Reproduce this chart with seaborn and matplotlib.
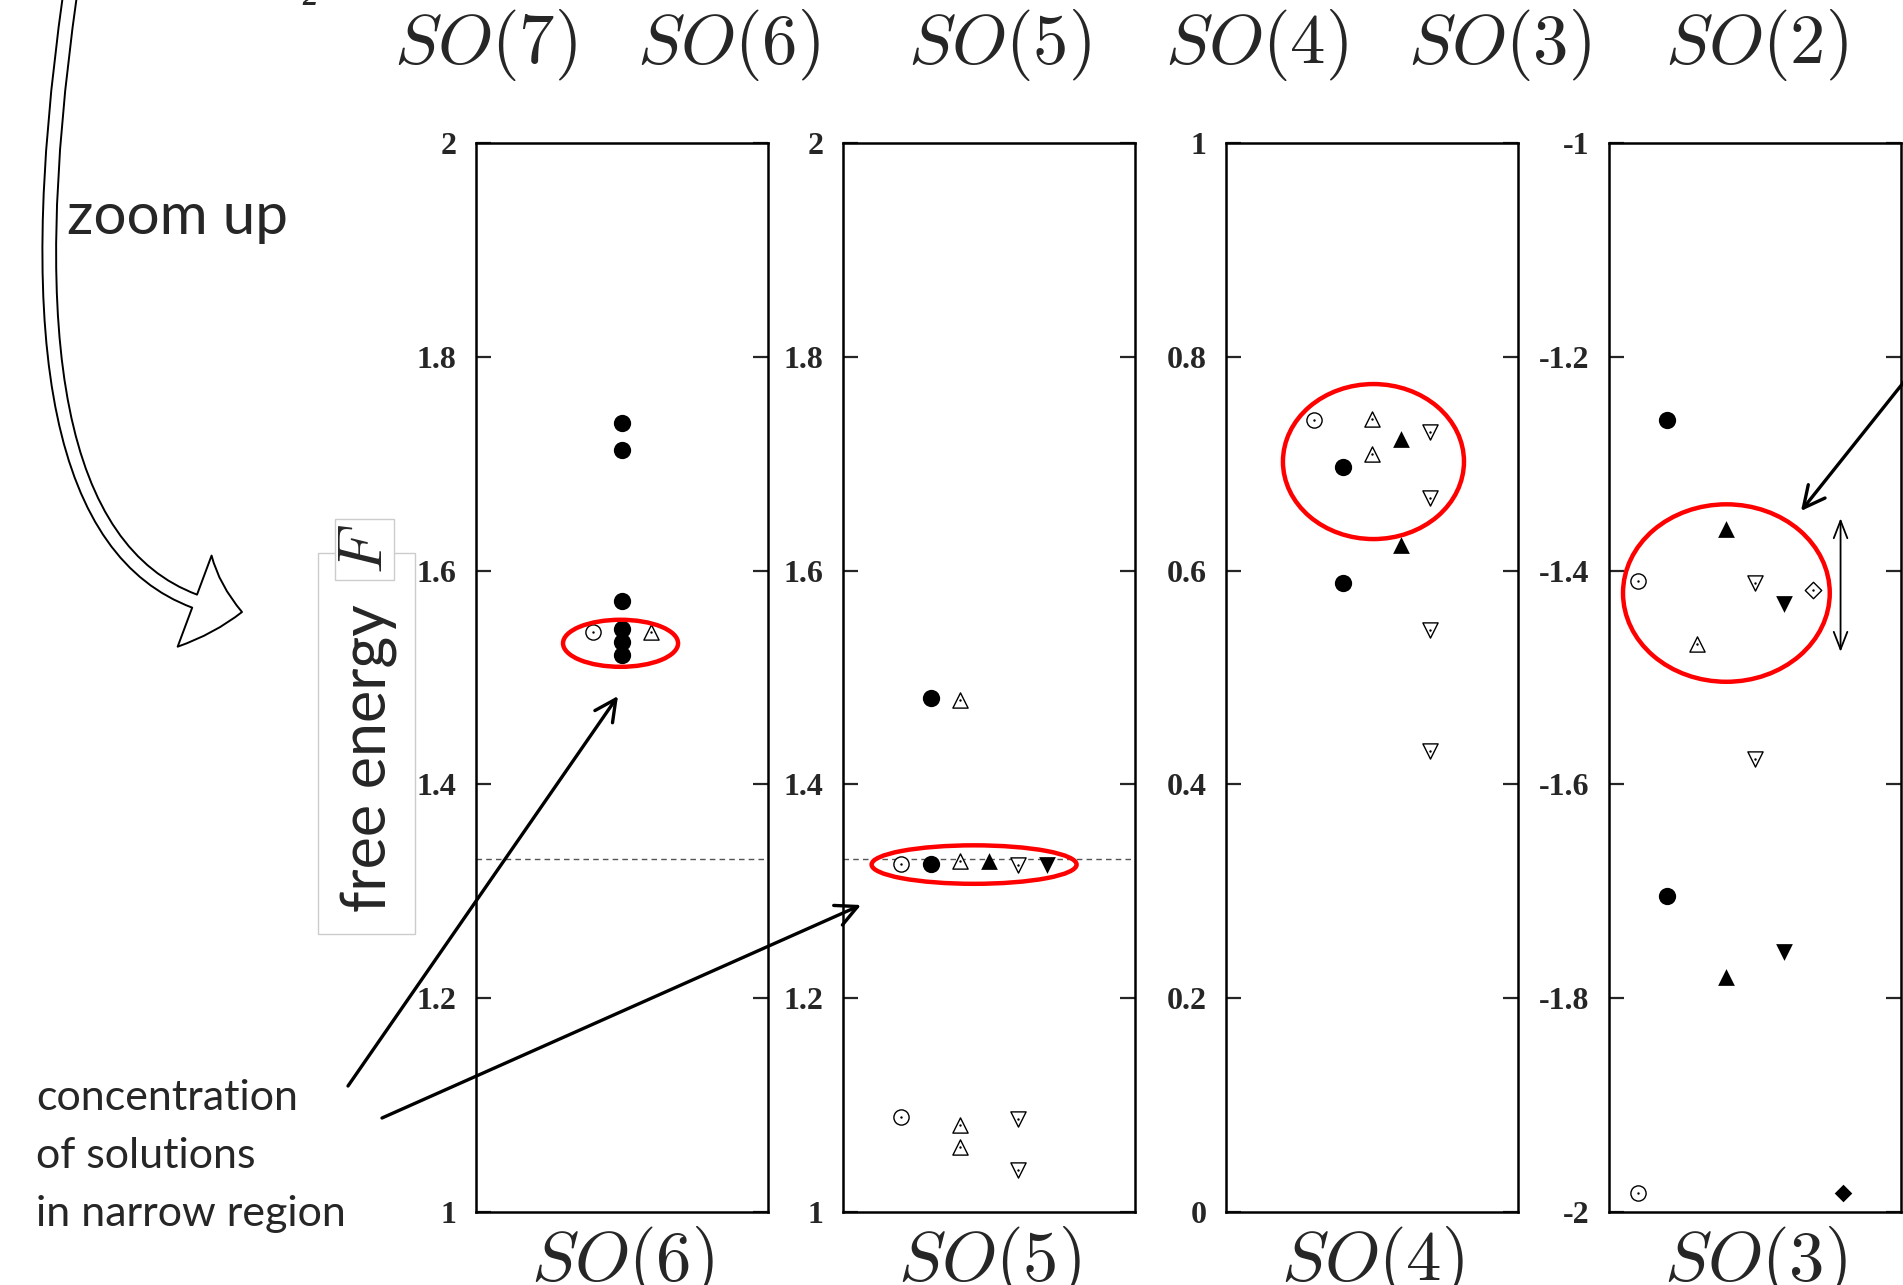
import numpy as np
import pandas as pd
import matplotlib
matplotlib.use('Agg')
import matplotlib.pyplot as plt
import seaborn as sns
from matplotlib.patches import Ellipse, Rectangle, FancyArrowPatch
from matplotlib.path import Path

# ---- values (column position, free energy, solution kind)
so6_x = [4, 5, 5, 5, 5, 5, 5, 6]
so6_F = [1.543, 1.738, 1.713, 1.572, 1.545, 1.533, 1.521, 1.543]
so6_kind = ['oc', 'fc', 'fc', 'fc', 'fc', 'fc', 'fc', 'ot']

so5_x = [2, 2, 3, 3, 4, 4, 4, 4, 5, 6, 6, 6, 7]
so5_F = [1.326, 1.089, 1.481, 1.326, 1.479, 1.328, 1.081, 1.061, 1.328,
         1.325, 1.087, 1.039, 1.325]
so5_kind = ['oc', 'oc', 'fc', 'fc', 'ot', 'ot', 'ot', 'ot', 'ft',
            'od', 'od', 'od', 'fd']

so4_x = [3, 4, 4, 5, 5, 6, 6, 7, 7, 7, 7]
so4_F = [0.741, 0.697, 0.588, 0.742, 0.709, 0.723, 0.624, 0.730, 0.668, 0.544, 0.431]
so4_kind = ['oc', 'fc', 'fc', 'ot', 'ot', 'ft', 'ft', 'od', 'od', 'od', 'od']

so3_x = [1, 1, 2, 2, 3, 4, 4, 5, 5, 6, 6, 7, 8]
so3_F = [-1.410, -1.982, -1.259, -1.704, -1.469, -1.361, -1.780, -1.412, -1.576,
         -1.431, -1.757, -1.418, -1.982]
so3_kind = ['oc', 'oc', 'fc', 'fc', 'ot', 'ft', 'ft', 'od', 'od', 'fd', 'fd', 'oD', 'fD']

ylims = [(1, 2), (1, 2), (0, 1), (-2, -1)]
ytick_labels = [['1', '1.2', '1.4', '1.6', '1.8', '2'],
                ['1', '1.2', '1.4', '1.6', '1.8', '2'],
                ['0', '0.2', '0.4', '0.6', '0.8', '1'],
                ['-2', '-1.8', '-1.6', '-1.4', '-1.2', '-1']]
bottom_groups = ['$SO(6)$', '$SO(5)$', '$SO(4)$', '$SO(3)$']
top_groups = ['$SO(7)$', '$SO(6)$', '$SO(5)$', '$SO(4)$', '$SO(3)$', '$SO(2)$']
reference_F = 1.33

# red circles around the clustered solutions (centre x, centre F, width, height)
clusters = [(4.95, 1.532, 3.94, 0.044), (4.49, 1.325, 7.02, 0.036),
            (5.05, 0.702, 6.2, 0.145), (4.02, -1.421, 7.08, 0.166)]

# marker, filled?, size
MARKERS = {
    'oc': ('o', False, 120), 'fc': ('o', True, 155),
    'ot': ('^', False, 120), 'ft': ('^', True, 145),
    'od': ('v', False, 120), 'fd': ('v', True, 145),
    'oD': ('D', False, 70), 'fD': ('D', True, 80),
}

W, H = 1903, 1285


def fx(x, y):
    """pixel position (top-left origin) -> figure fraction"""
    return x / W, 1 - y / H


def draw_panel(ax, xs, Fs, kinds, lim, labels):
    df = pd.DataFrame({'x': xs, 'F': Fs, 'kind': kinds})
    for kind, sub in df.groupby('kind'):
        m, filled, s = MARKERS[kind]
        sns.scatterplot(data=sub, x='x', y='F', ax=ax, marker=m, s=s,
                        color='black' if filled else 'white', edgecolor='black',
                        linewidth=0 if filled else 1.0, legend=False, zorder=3)
        if not filled:
            sns.scatterplot(data=sub, x='x', y='F', ax=ax, marker='o', s=3,
                            color='black', linewidth=0, legend=False, zorder=4)
    ax.set_xlim(0, 10)
    ax.set_ylim(*lim)
    ax.set_xticks([])
    ax.set_xlabel('')
    ax.set_ylabel('')
    ax.set_yticks(np.linspace(lim[0], lim[1], len(labels)))
    ax.set_yticklabels(labels, fontfamily='Liberation Serif', fontweight='bold', fontsize=23)
    ax.tick_params(axis='y', direction='in', length=11, width=1.6,
                   left=True, right=True, pad=14)
    for sp in ax.spines.values():
        sp.set_visible(True)
        sp.set_color('black')
        sp.set_linewidth(1.8)


def main():
    sns.set_style('white')
    plt.rcParams['mathtext.fontset'] = 'cm'
    plt.rcParams['font.family'] = ['Lato', 'DejaVu Sans']

    fig = plt.figure(figsize=(W / 100, H / 100), dpi=100)

    lefts = [476, 843, 1226, 1609]
    panels = [(so6_x, so6_F, so6_kind), (so5_x, so5_F, so5_kind),
              (so4_x, so4_F, so4_kind), (so3_x, so3_F, so3_kind)]
    axes = []
    for i, (xs, Fs, kinds) in enumerate(panels):
        l, b = fx(lefts[i], 1212)
        ax = fig.add_axes([l, b, 292 / W, 1069 / H])
        draw_panel(ax, xs, Fs, kinds, ylims[i], ytick_labels[i])
        cx, cy, w, h = clusters[i]
        ax.add_patch(Ellipse((cx, cy), w, h, fill=False, edgecolor='#ff0000',
                             lw=3.2, zorder=5, clip_on=False))
        axes.append(ax)

    # reference level shared by SO(6) and SO(5)
    for ax in axes[:2]:
        ax.axhline(reference_F, color='#555555', lw=1.0, ls=(0, (4, 3)), zorder=2)

    # spread marker in SO(3)
    axes[3].annotate('', xy=(7.93, -1.351), xytext=(7.93, -1.476),
                     arrowprops=dict(arrowstyle='<->,head_length=0.9,head_width=0.35',
                                     lw=1.3, color='black', shrinkA=0, shrinkB=0,
                                     mutation_scale=14))

    # group names
    top_x = [485, 728, 999, 1256, 1499, 1756]
    for name, x in zip(top_groups, top_x):
        fig.text(*fx(x, 63), name, fontsize=51, ha='center', va='baseline')
    for name, l in zip(bottom_groups, lefts):
        fig.text(*fx(l + 146, 1280), name, fontsize=51, ha='center', va='baseline')
    fig.text(*fx(310, 5), '2', fontsize=22, fontweight='bold', fontstyle='italic',
             ha='center', va='baseline', family='Liberation Serif')

    # axis title in boxes
    fig.add_artist(Rectangle(fx(318, 934), 97 / W, 381 / H, transform=fig.transFigure,
                             facecolor='white', edgecolor='#cccccc', lw=1.0))
    fig.add_artist(Rectangle(fx(335, 580), 59 / W, 61 / H, transform=fig.transFigure,
                             facecolor='white', edgecolor='#cccccc', lw=1.0))
    fig.text(*fx(369, 758), 'free energy', fontsize=44, rotation=90,
             ha='center', va='center')
    fig.text(*fx(364, 549), '$F$', fontsize=46, rotation=90, ha='center', va='center')

    # annotations
    fig.text(*fx(67, 234), 'zoom up', fontsize=42, ha='left', va='baseline')
    for txt, y in zip(['concentration', 'of solutions', 'in narrow region'],
                      [1110, 1168, 1226]):
        fig.text(*fx(36, y), txt, fontsize=31, ha='left', va='baseline')

    arrow_kw = dict(transform=fig.transFigure, arrowstyle='->,head_length=0.7,head_width=0.35',
                    mutation_scale=22, lw=2.4, color='black', shrinkA=0, shrinkB=0)
    fig.add_artist(FancyArrowPatch(fx(348, 1086), fx(618, 696), **arrow_kw))
    fig.add_artist(FancyArrowPatch(fx(382, 1118), fx(861, 905), **arrow_kw))
    fig.add_artist(FancyArrowPatch(fx(1915, 368), fx(1801, 511), **arrow_kw))

    # hollow curved "zoom up" arrow
    curve = Path([fx(70, -5), fx(-14, 585), fx(242, 612)],
                 [Path.MOVETO, Path.CURVE3, Path.CURVE3])
    fig.add_artist(FancyArrowPatch(path=curve, transform=fig.transFigure,
                                   arrowstyle='simple,head_length=0.7,head_width=1.4,tail_width=0.2',
                                   mutation_scale=50, facecolor='white', edgecolor='black', lw=1.4))

    fig.savefig('out.png', dpi=100)
    plt.close(fig)


if __name__ == '__main__':
    main()
